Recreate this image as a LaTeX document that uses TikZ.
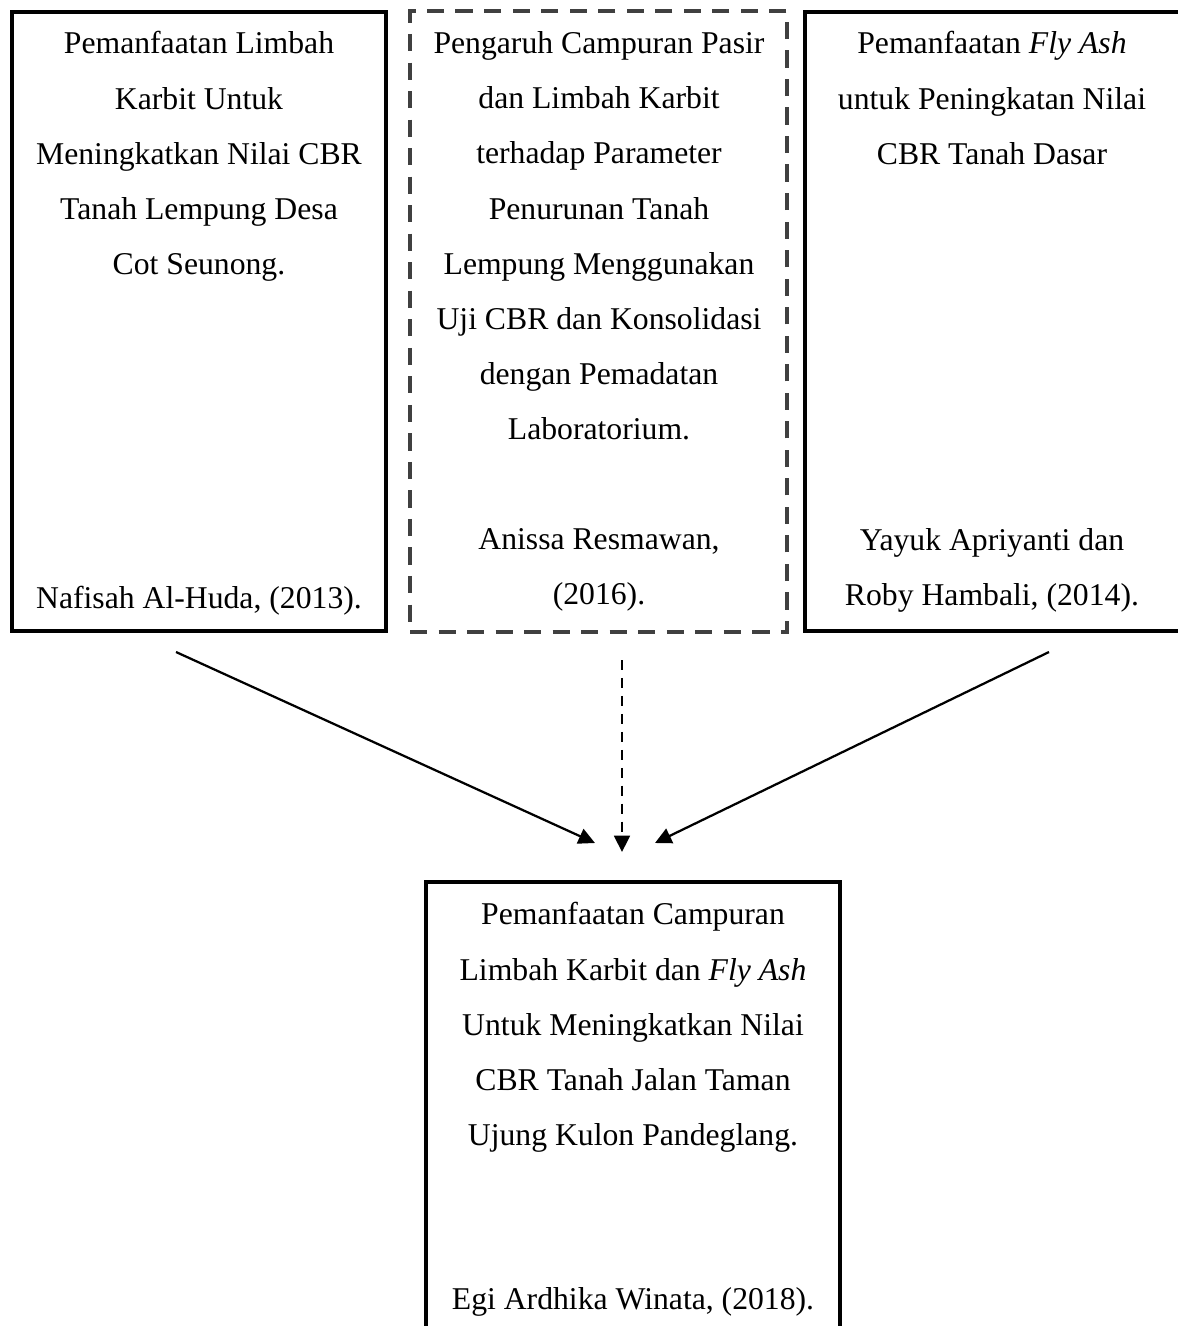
\documentclass[tikz,border=0pt]{standalone}
\usepackage{fontspec}
\setmainfont{Liberation Serif}
\usetikzlibrary{arrows.meta}
\tikzset{
  box/.style={draw, line width=1.5pt, inner sep=0pt},
  txt/.style={align=center, anchor=north, inner sep=0pt, font=\fontsize{12}{20.9}\selectfont},
  link/.style={->, line width=0.85pt}
}
\begin{document}
\begin{tikzpicture}[x=0.3786pt, y=-0.3786pt, >={Triangle[length=6.2pt,width=6pt]}]
\useasboundingbox (0,0) rectangle (1177,1326);
% the three earlier studies
\node[box, minimum width=141.6pt, minimum height=234.4pt] (lit1) at (199,321.5) {};
\node[box, draw=black!75, dash pattern=on 6.5pt off 4.3pt, minimum width=142.7pt, minimum height=235.1pt] (lit2) at (598.5,321.5) {};
\node[box, minimum width=142pt, minimum height=234.4pt] (lit3) at (992.5,321.5) {};
% this study
\node[box, minimum width=156.7pt, minimum height=173.4pt] (res) at (633,1111) {};
\node[txt] (lit1t) at (199,31) {Pemanfaatan Limbah\\Karbit Untuk\\Meningkatkan Nilai CBR\\Tanah Lempung Desa\\Cot Seunong.};
\node[txt] (lit1a) at (199,586) {Nafisah Al-Huda, (2013).};
\node[txt] (lit2t) at (599,31) {Pengaruh Campuran Pasir\\dan Limbah Karbit\\terhadap Parameter\\Penurunan Tanah\\Lempung Menggunakan\\Uji CBR dan Konsolidasi\\dengan Pemadatan\\Laboratorium.};
\node[txt] (lit2a) at (599,528) {Anissa Resmawan,\\(2016).};
\node[txt] (lit3t) at (992,31) {Pemanfaatan \textit{Fly Ash}\\untuk Peningkatan Nilai\\CBR Tanah Dasar};
\node[txt] (lit3a) at (992,528) {Yayuk Apriyanti dan\\Roby Hambali, (2014).};
\node[txt] (rest) at (633,902) {Pemanfaatan Campuran\\Limbah Karbit dan \textit{Fly Ash}\\Untuk Meningkatkan Nilai\\CBR Tanah Jalan Taman\\Ujung Kulon Pandeglang.};
\node[txt] (resa) at (633,1287) {Egi Ardhika Winata, (2018).};
% arrow ends
\coordinate (s1) at (176,652);
\coordinate (e1) at (595,843);
\coordinate (s2) at (622,660);
\coordinate (e2) at (622,852);
\coordinate (s3) at (1049,652);
\coordinate (e3) at (655,843);
\draw[link] (s1) -- (e1);
\draw[link, dash pattern=on 3.8pt off 3pt] (s2) -- (e2);
\draw[link] (s3) -- (e3);
\end{tikzpicture}
\end{document}
